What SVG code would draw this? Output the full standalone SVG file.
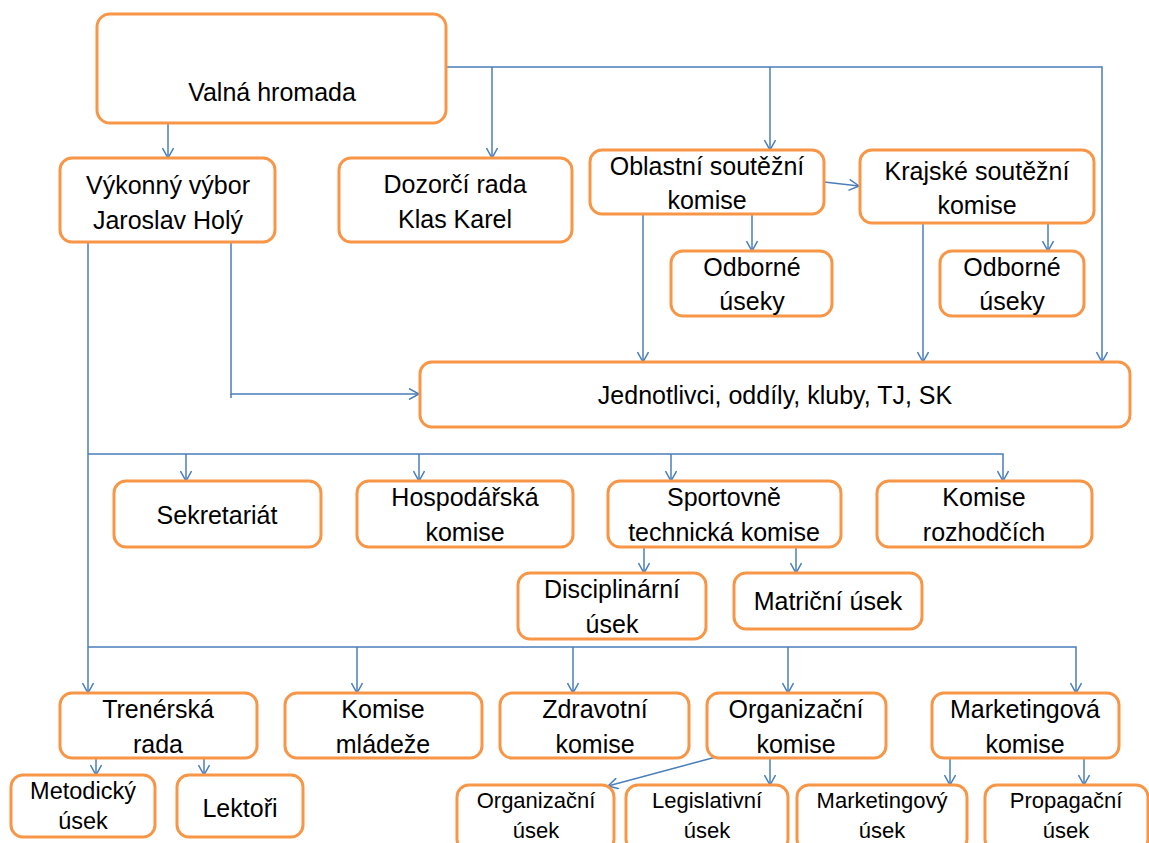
<svg xmlns="http://www.w3.org/2000/svg" width="1149" height="843" viewBox="0 0 1149 843">
<defs>
<style>
.b{fill:#fff;stroke:#F79646;stroke-width:3}
.t{font-family:"Liberation Sans",Arial,sans-serif;font-size:25px;fill:#000;text-anchor:middle}
.s{font-size:22px}
.m{font-size:23.5px}
.c{fill:none;stroke:#4A7EBB;stroke-width:1.5}
</style>
<marker id="a" viewBox="0 0 12 12" refX="11" refY="6" markerWidth="12" markerHeight="12" markerUnits="userSpaceOnUse" orient="auto">
<path d="M1,0.5 L11,6 L1,11.5" fill="none" stroke="#4A7EBB" stroke-width="1.5"/>
</marker>
</defs>
<rect width="1149" height="843" fill="#fff"/>
<g id="connectors" class="c">
<path d="M168,123 V158" marker-end="url(#a)"/>
<path d="M446,67 H1102 V362" marker-end="url(#a)"/>
<path d="M492,67 V158" marker-end="url(#a)"/>
<path d="M770,67 V150" marker-end="url(#a)"/>
<path d="M824,182 L859,186" marker-end="url(#a)"/>
<path d="M752,214 V251" marker-end="url(#a)"/>
<path d="M1048,223 V251" marker-end="url(#a)"/>
<path d="M643,214 V362" marker-end="url(#a)"/>
<path d="M923,223 V362" marker-end="url(#a)"/>
<path d="M231,242 V394 H419" marker-end="url(#a)"/>
<path d="M231,394 V398"/>
<path d="M88,242 V693" marker-end="url(#a)"/>
<path d="M88,454 H1003 V481" marker-end="url(#a)"/>
<path d="M186,454 V481" marker-end="url(#a)"/>
<path d="M419,454 V481" marker-end="url(#a)"/>
<path d="M671,454 V481" marker-end="url(#a)"/>
<path d="M644,547 V573" marker-end="url(#a)"/>
<path d="M796,547 V573" marker-end="url(#a)"/>
<path d="M88,647 H1076 V693" marker-end="url(#a)"/>
<path d="M357,647 V693" marker-end="url(#a)"/>
<path d="M573,647 V693" marker-end="url(#a)"/>
<path d="M788,647 V693" marker-end="url(#a)"/>
<path d="M96,758 V775" marker-end="url(#a)"/>
<path d="M204,758 V775" marker-end="url(#a)"/>
<path d="M716,757 L608,786" marker-end="url(#a)"/>
<path d="M770,758 V785" marker-end="url(#a)"/>
<path d="M950,758 V785" marker-end="url(#a)"/>
<path d="M1084,758 V785" marker-end="url(#a)"/>
</g>
<g id="valna"><rect class="b" x="97" y="14" width="349" height="109" rx="13"/><text class="t" x="272" y="101">Valná hromada</text></g>
<g id="vykonny"><rect class="b" x="60" y="158" width="215" height="84" rx="12"/><text class="t" x="168" y="194">Výkonný výbor</text><text class="t" x="168" y="229">Jaroslav Holý</text></g>
<g id="dozorci"><rect class="b" x="339" y="158" width="233" height="84" rx="12"/><text class="t" x="455" y="193">Dozorčí rada</text><text class="t" x="455" y="228">Klas Karel</text></g>
<g id="oblastni"><rect class="b" x="590" y="150" width="234" height="64" rx="12"/><text class="t" x="707" y="175">Oblastní soutěžní</text><text class="t" x="707" y="209">komise</text></g>
<g id="krajske"><rect class="b" x="860" y="150" width="234" height="73" rx="12"/><text class="t" x="977" y="180">Krajské soutěžní</text><text class="t" x="977" y="214">komise</text></g>
<g id="odborne1"><rect class="b" x="671" y="251" width="161" height="65" rx="12"/><text class="t" x="752" y="276">Odborné</text><text class="t" x="752" y="310">úseky</text></g>
<g id="odborne2"><rect class="b" x="940" y="251" width="144" height="65" rx="12"/><text class="t" x="1012" y="276">Odborné</text><text class="t" x="1012" y="310">úseky</text></g>
<g id="jednotlivci"><rect class="b" x="420" y="362" width="710" height="65" rx="12"/><text class="t" x="775" y="404">Jednotlivci, oddíly, kluby, TJ, SK</text></g>
<g id="sekretariat"><rect class="b" x="114" y="481" width="207" height="66" rx="12"/><text class="t" x="217" y="524">Sekretariát</text></g>
<g id="hospodarska"><rect class="b" x="357" y="481" width="216" height="66" rx="12"/><text class="t" x="465" y="506">Hospodářská</text><text class="t" x="465" y="541">komise</text></g>
<g id="sportovne"><rect class="b" x="608" y="481" width="233" height="66" rx="12"/><text class="t" x="724" y="506">Sportovně</text><text class="t" x="724" y="541">technická komise</text></g>
<g id="rozhodci"><rect class="b" x="877" y="481" width="215" height="66" rx="12"/><text class="t" x="984" y="506">Komise</text><text class="t" x="984" y="541">rozhodčích</text></g>
<g id="disciplinarni"><rect class="b" x="518" y="573" width="188" height="66" rx="12"/><text class="t" x="612" y="598">Disciplinární</text><text class="t" x="612" y="633">úsek</text></g>
<g id="matricni"><rect class="b" x="734" y="573" width="188" height="56" rx="12"/><text class="t" x="828" y="610">Matriční úsek</text></g>
<g id="trenerska"><rect class="b" x="60" y="693" width="197" height="65" rx="12"/><text class="t" x="158" y="718">Trenérská</text><text class="t" x="158" y="753">rada</text></g>
<g id="mladez"><rect class="b" x="285" y="693" width="197" height="65" rx="12"/><text class="t" x="383" y="718">Komise</text><text class="t" x="383" y="753">mládeže</text></g>
<g id="zdravotni"><rect class="b" x="500" y="693" width="189" height="65" rx="12"/><text class="t" x="595" y="718">Zdravotní</text><text class="t" x="595" y="753">komise</text></g>
<g id="organizacni"><rect class="b" x="707" y="693" width="179" height="65" rx="12"/><text class="t" x="796" y="718">Organizační</text><text class="t" x="796" y="753">komise</text></g>
<g id="marketingova"><rect class="b" x="932" y="693" width="187" height="65" rx="12"/><text class="t" x="1025" y="718">Marketingová</text><text class="t" x="1025" y="753">komise</text></g>
<g id="metodicky"><rect class="b" x="11" y="775" width="144" height="62" rx="12"/><text class="t m" x="83" y="799">Metodický</text><text class="t m" x="83" y="829">úsek</text></g>
<g id="lektori"><rect class="b" x="177" y="775" width="126" height="62" rx="12"/><text class="t" x="240" y="817">Lektoři</text></g>
<g id="org-usek"><rect class="b" x="457" y="785" width="157" height="66" rx="12"/><text class="t s" x="536" y="808">Organizační</text><text class="t s" x="536" y="838">úsek</text></g>
<g id="legislativni"><rect class="b" x="626" y="785" width="162" height="66" rx="12"/><text class="t s" x="707" y="808">Legislativní</text><text class="t s" x="707" y="838">úsek</text></g>
<g id="marketingovy"><rect class="b" x="797" y="785" width="170" height="66" rx="12"/><text class="t s" x="882" y="808">Marketingový</text><text class="t s" x="882" y="838">úsek</text></g>
<g id="propagacni"><rect class="b" x="985" y="785" width="163" height="66" rx="12"/><text class="t s" x="1066" y="808">Propagační</text><text class="t s" x="1066" y="838">úsek</text></g>
</svg>
